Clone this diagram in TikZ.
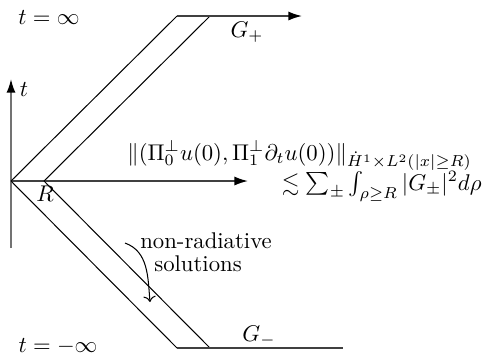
\documentclass[tikz,border=0pt]{standalone}
\usepackage{amsmath,amssymb}
\usetikzlibrary{arrows.meta}
\begin{document}
\begin{tikzpicture}[x=0.44pt,y=-0.44pt,
  axisline/.style={draw=black!55,line width=0.8pt},
  cone/.style={draw=black,line width=0.45pt},
  flatline/.style={draw=black!75,line width=0.7pt},
  bigtip/.style={-{Latex[length=6pt,width=4pt,color=black]}},
  lbl/.style={inner sep=0pt}]
\useasboundingbox (0,0) rectangle (485,356);
% points
\coordinate (O) at (11,181);
\coordinate (Rp) at (44,181);
\coordinate (tb) at (11,248);
\coordinate (tt) at (11,79);
\coordinate (xe) at (248,181);
\coordinate (A1) at (177,16);
\coordinate (A2) at (210,16);
\coordinate (Ae) at (302,16);
\coordinate (B1) at (177,348);
\coordinate (B2) at (210,348);
\coordinate (Be) at (343,348);
% axes
\draw[axisline,bigtip] (tb) -- (tt);
\draw[flatline,bigtip] (O) -- (xe);
% cone lines
\draw[cone] (O) -- (A1);
\draw[cone] (Rp) -- (A2);
\draw[cone] (O) -- (B1);
\draw[cone] (Rp) -- (B2);
\draw[flatline,bigtip] (A1) -- (Ae);
\draw[flatline] (B1) -- (Be);
% labels
\node[lbl] (tinf) at (49,18) {$t=\infty$};
\node[lbl] (tminf) at (58,346) {$t=-\infty$};
\node[lbl] (Gp) at (247,32) {$G_+$};
\node[lbl] (Gm) at (259,336) {$G_-$};
\node[lbl] (tl) at (24,89) {$t$};
\node[lbl] (Rl) at (45,194) {$R$};
\node[lbl,anchor=base west] (f1) at (127,160) {$\|(\Pi_0^\perp u(0),\Pi_1^\perp\partial_t u(0))\|_{\dot H^1\times L^2(|x|\geq R)}$};
\node[lbl,anchor=base east] (f2) at (482,190) {$\lesssim\sum_\pm\int_{\rho\geq R}|G_\pm|^2d\rho$};
\node[lbl,align=center] (nr) at (206,252) {non-radiative\\[-2pt]solutions\hspace*{7pt}};
\coordinate (cs) at (125,243);
\coordinate (ce) at (150,302);
\draw[line width=0.45pt,->] (cs) to[out=-20,in=95] (ce);
\end{tikzpicture}
\end{document}
